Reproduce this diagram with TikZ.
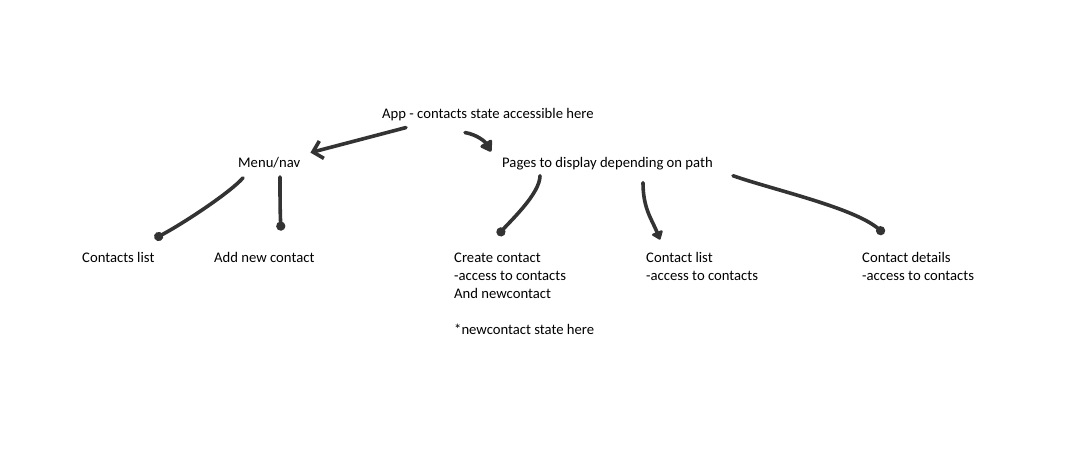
\documentclass[tikz,border=0pt]{standalone}
\usepackage{fontspec}
\setmainfont{Carlito}
\usetikzlibrary{arrows.meta}

\begin{document}
\begin{tikzpicture}[x=1pt,y=-1pt,line cap=round,line join=round]
\tikzstyle{lbl} = [inner sep=0pt, anchor=base west, align=left, font=\fontsize{14.67}{18}\selectfont]
\tikzstyle{pen} = [line width=3.6pt, draw=black!80]
\tikzstyle{barb} = [pen,-{Straight Barb[length=9pt,width=18pt,line width=3.6pt]}]
\tikzstyle{blob} = [pen,-{Circle[length=9pt,width=9pt]}]
\tikzstyle{tri} = [pen,-{Triangle[length=9pt,width=13pt,round]}]

\path[use as bounding box, fill=white] (0,0) rectangle (1070,456);

\node (app) [lbl] at (382,118) {App - contacts state accessible here};
\node (menu) [lbl] at (238,167) {Menu/nav};
\node (pages) [lbl] at (502,167) {Pages to display depending on path};

\node (clist) [lbl] at (82,262) {Contacts list};
\node (addnew) [lbl] at (214,262) {Add new contact};

% multi-line nodes sit on their last line
\node (create) [lbl] at (454,334) {Create contact\\-access to contacts\\And newcontact\\[18pt]*newcontact state here};
\node (contactlist) [lbl] at (646,280) {Contact list\\-access to contacts};
\node (details) [lbl] at (862,280) {Contact details\\-access to contacts};

% top level
\draw [barb] ([xshift=24pt,yshift=-7pt]app.south west) -- ([xshift=10pt,yshift=4pt]menu.north east);
\draw [tri, -{Triangle[length=12pt,width=15pt,round]}] ([xshift=83pt,yshift=-12pt]app.south west) .. controls +(12,2) and +(-6,-10) .. ([xshift=-11pt,yshift=5pt]pages.north west);

% menu
\draw [blob] ([xshift=5pt,yshift=-10pt]menu.south west) .. controls +(-12,14) and +(30,-16) .. ([xshift=0pt,yshift=13pt]clist.north east);
\draw [blob] ([xshift=42pt,yshift=-9pt]menu.south west) .. controls +(0,15) and +(-1,-20) .. ([xshift=67pt,yshift=21pt]addnew.north west);

% pages
\draw [blob] ([xshift=38pt,yshift=-6pt]pages.south west) .. controls +(0,18) and +(12,-14) .. ([xshift=44pt,yshift=17pt]create.north west);
\draw [tri] ([xshift=141pt,yshift=-13pt]pages.south west) .. controls +(0,26) and +(-8,-20) .. ([xshift=14pt,yshift=12pt]contactlist.north west);
\draw [blob] ([xshift=20pt,yshift=-6pt]pages.south east) .. controls +(40,14) and +(-30,-26) .. ([xshift=22pt,yshift=18pt]details.north west);

\end{tikzpicture}
\end{document}
